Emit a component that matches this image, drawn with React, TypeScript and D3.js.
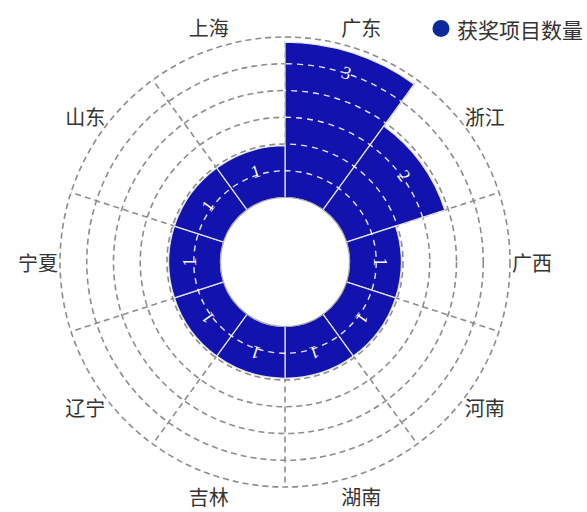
import React, { useEffect, useRef } from "react";
import * as d3 from "d3";

const categories = ["广东", "浙江", "广西", "河南", "湖南", "吉林", "辽宁", "宁夏", "山东", "上海"];
const values = [3, 2, 1, 1, 1, 1, 1, 1, 1, 1];
const seriesName = "获奖项目数量";
const radialMax = 3.1;
const splitNumber = 6;

const W = 587;
const H = 512;
const cx = 285;
const cy = 262;
const innerR = 64.5;
const outerR = 225;
const barColor = "#1212ae";
const gridColor = "#8c8c8c";

export default function App() {
  const ref = useRef<SVGSVGElement | null>(null);

  useEffect(() => {
    const svg = d3.select(ref.current);
    svg.selectAll("*").remove();

    const r = d3.scaleLinear().domain([0, radialMax]).range([innerR, outerR]);
    const step = (2 * Math.PI) / categories.length;
    const gridValues = d3.range(1, splitNumber + 1).map(k => (radialMax * k) / splitNumber);

    const root = svg.append("g").attr("transform", `translate(${cx},${cy})`);

    const data = categories.map((name, i) => ({
      name,
      value: values[i],
      startAngle: i * step,
      endAngle: (i + 1) * step,
    }));

    const arc = d3.arc<any>()
      .innerRadius(innerR)
      .outerRadius(d => r(d.value))
      .startAngle(d => d.startAngle)
      .endAngle(d => d.endAngle);

    // grid under the bars
    const grid = root.append("g")
      .attr("fill", "none")
      .attr("stroke", gridColor)
      .attr("stroke-width", 1.6)
      .attr("stroke-dasharray", "6,4");

    grid.selectAll("circle")
      .data(gridValues)
      .join("circle")
      .attr("r", d => r(d));

    grid.selectAll("line")
      .data(data)
      .join("line")
      .attr("x1", d => innerR * Math.sin(d.startAngle))
      .attr("y1", d => -innerR * Math.cos(d.startAngle))
      .attr("x2", d => outerR * Math.sin(d.startAngle))
      .attr("y2", d => -outerR * Math.cos(d.startAngle));

    // clip for white grid over the bars
    const clip = svg.append("defs").append("clipPath").attr("id", "bar-clip");
    clip.selectAll("path").data(data).join("path").attr("d", arc);

    root.append("g")
      .selectAll("path")
      .data(data)
      .join("path")
      .attr("d", arc)
      .attr("fill", barColor)
      .attr("stroke", "#e6e6e6")
      .attr("stroke-width", 1.2);

    root.append("g")
      .attr("clip-path", "url(#bar-clip)")
      .attr("fill", "none")
      .attr("stroke", "#ffffff")
      .attr("stroke-opacity", 0.9)
      .attr("stroke-width", 1.4)
      .attr("stroke-dasharray", "6,5")
      .selectAll("circle")
      .data(gridValues)
      .join("circle")
      .attr("r", d => r(d));

    root.append("circle")
      .attr("r", innerR)
      .attr("fill", "#fff")
      .attr("stroke", "#a8a8a8")
      .attr("stroke-width", 1.2);

    // value labels, tangential
    root.append("g")
      .selectAll("text")
      .data(data)
      .join("text")
      .attr("transform", d => {
        const a = (d.startAngle + d.endAngle) / 2;
        const rr = r(d.value) - 21;
        return `translate(${rr * Math.sin(a)},${-rr * Math.cos(a)}) rotate(${(a * 180) / Math.PI})`;
      })
      .attr("text-anchor", "middle")
      .attr("dominant-baseline", "central")
      .attr("fill", "#fff")
      .attr("font-family", "'Liberation Serif', 'DejaVu Serif', serif")
      .attr("font-size", 18)
      .text(d => d.value);

    // category labels
    const labelR = 247;
    root.append("g")
      .selectAll("text")
      .data(data)
      .join("text")
      .attr("x", d => labelR * Math.sin((d.startAngle + d.endAngle) / 2))
      .attr("y", d => -labelR * Math.cos((d.startAngle + d.endAngle) / 2))
      .attr("text-anchor", "middle")
      .attr("dominant-baseline", "central")
      .attr("fill", "#333")
      .attr("font-family", "'Noto Sans CJK SC', sans-serif")
      .attr("font-size", 20)
      .text(d => d.name);

    // legend
    const legend = svg.append("g").attr("transform", "translate(441,28.5)");
    legend.append("circle").attr("r", 8.5).attr("fill", "#0b2a9b");
    legend.append("text")
      .attr("x", 16)
      .attr("dominant-baseline", "central")
      .attr("fill", "#333")
      .attr("font-family", "'Noto Sans CJK SC', sans-serif")
      .attr("font-size", 21)
      .text(seriesName);
  }, []);

  return (
    <svg
      ref={ref}
      width={W}
      height={H}
      style={{ position: "absolute", left: 0, top: 0, background: "#fff" }}
    />
  );
}
